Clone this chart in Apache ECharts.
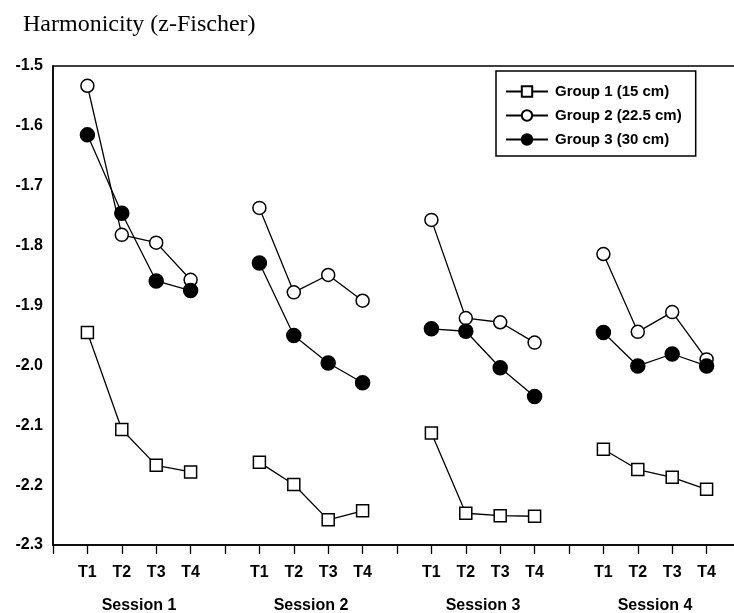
<!DOCTYPE html>
<html>
<head>
<meta charset="utf-8">
<script src="https://cdn.jsdelivr.net/npm/echarts@6/dist/echarts.min.js"></script>
<style>
html,body{margin:0;padding:0;background:#fff;}
#chart{width:734px;height:613px;}
</style>
</head>
<body>
<div id="chart"></div>
<script>
// x positions: blank slots at 0,5,10,15 separate the sessions
var categories = ['', 'T1','T2','T3','T4', '', 'T1','T2','T3','T4', '', 'T1','T2','T3','T4', '', 'T1','T2','T3','T4', ''];
var sessionLabels = ['Session 1', 'Session 2', 'Session 3', 'Session 4'];
var yTicks = [-2.3, -2.2, -2.1, -2.0, -1.9, -1.8, -1.7, -1.6, -1.5];
var seriesNames = ['Group 1 (15 cm)', 'Group 2 (22.5 cm)', 'Group 3 (30 cm)'];

var group1 = ['-', -1.945, -2.107, -2.167, -2.178, '-', -2.162, -2.199, -2.258, -2.243, '-', -2.113, -2.247, -2.251, -2.252, '-', -2.140, -2.174, -2.187, -2.207, '-'];
var group2 = ['-', -1.533, -1.782, -1.795, -1.857, '-', -1.737, -1.878, -1.849, -1.892, '-', -1.757, -1.921, -1.928, -1.962, '-', -1.814, -1.944, -1.911, -1.990, '-'];
var group3 = ['-', -1.615, -1.746, -1.859, -1.875, '-', -1.829, -1.950, -1.996, -2.029, '-', -1.939, -1.943, -2.004, -2.052, '-', -1.945, -2.001, -1.981, -2.001, '-'];

var chart = echarts.init(document.getElementById('chart'));
var font = 'Liberation Sans, Arial, sans-serif';

function mkSeries(name, data, symbol, fill, size) {
  return {
    name: name,
    type: 'line',
    data: data,
    connectNulls: false,
    symbol: symbol,
    symbolSize: size,
    showAllSymbol: true,
    lineStyle: { color: '#000', width: 1.3 },
    itemStyle: { color: fill, borderColor: '#000', borderWidth: 1.5 },
    emphasis: { disabled: true },
    animation: false,
    z: 3
  };
}

chart.setOption({
  backgroundColor: '#fff',
  animation: false,
  title: {
    text: 'Harmonicity (z-Fischer)',
    left: 18, top: 8,
    textStyle: { fontFamily: 'Liberation Serif, Times New Roman, serif', fontSize: 24, fontWeight: 'normal', color: '#000' }
  },
  legend: {
    orient: 'vertical',
    left: 496, top: 71,
    width: 224,
    padding: [13, 14, 9, 9],
    itemGap: 9,
    itemWidth: 42, itemHeight: 13,
    borderColor: '#000', borderWidth: 1.5,
    backgroundColor: '#fff',
    data: seriesNames,
    textStyle: { fontFamily: font, fontSize: 15, fontWeight: 'bold', color: '#000', padding: [0, 0, 0, 2] }
  },
  grid: { left: 53, top: 66, bottom: 68, width: 688, outerBoundsMode: 'none', containLabel: false, show: true, borderColor: '#000', borderWidth: 1.5, backgroundColor: 'transparent' },
  xAxis: [{
    type: 'category',
    data: categories,
    boundaryGap: false,
    axisLine: { lineStyle: { color: '#000', width: 1.5 } },
    axisTick: { show: true, interval: 0, length: 9, inside: false, lineStyle: { color: '#000', width: 1.3 } },
    axisLabel: { interval: 0, margin: 20, fontFamily: font, fontSize: 16, fontWeight: 'bold', color: '#000' },
    splitLine: { show: false }
  }, {
    type: 'value',
    position: 'bottom',
    min: 0, max: 20, interval: 2.5,
    axisLine: { show: false },
    axisTick: { show: false },
    splitLine: { show: false },
    axisLabel: {
      margin: 53,
      fontFamily: font, fontSize: 16, fontWeight: 'bold', color: '#000',
      showMinLabel: false, showMaxLabel: false,
      formatter: function (v) {
        var k = (v - 2.5) / 5;
        if (Math.abs(k - Math.round(k)) < 1e-6 && k >= 0 && k < sessionLabels.length) return sessionLabels[Math.round(k)];
        return '';
      }
    }
  }],
  yAxis: {
    type: 'value',
    min: yTicks[0], max: yTicks[yTicks.length - 1], interval: 0.1,
    axisLine: { show: true, lineStyle: { color: '#000', width: 1.5 } },
    axisTick: { show: false },
    splitLine: { show: false },
    axisLabel: {
      margin: 10, fontFamily: font, fontSize: 16, fontWeight: 'bold', color: '#000',
      formatter: function (v) { return v.toFixed(1); }
    }
  },
  series: [
    mkSeries(seriesNames[0], group1, 'rect', '#fff', 12),
    mkSeries(seriesNames[1], group2, 'circle', '#fff', 13),
    mkSeries(seriesNames[2], group3, 'circle', '#000', 14)
  ]
});
</script>
</body>
</html>
